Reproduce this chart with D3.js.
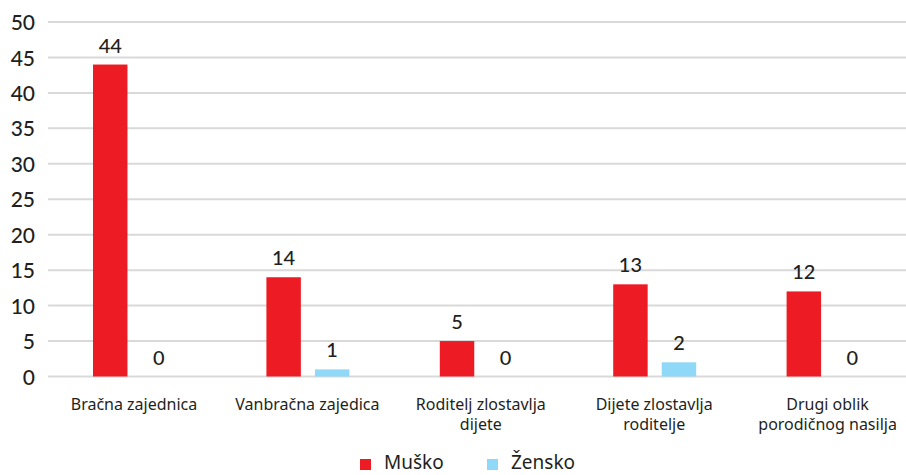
<!DOCTYPE html>
<html>
<head>
<meta charset="utf-8">
<script src="https://cdn.jsdelivr.net/npm/d3@7"></script>
<style>
  body { margin: 0; background: #fff; }
  text { font-family: "Noto Sans", sans-serif; fill: #231f20; }
</style>
</head>
<body>
<script>
// podaci
var categories = [
  ["Bračna zajednica"],
  ["Vanbračna zajedica"],
  ["Roditelj zlostavlja", "dijete"],
  ["Dijete zlostavlja", "roditelje"],
  ["Drugi oblik", "porodičnog nasilja"]
];
var series = ["Muško", "Žensko"];
var musko = [44, 14, 5, 13, 12];
var zensko = [0, 1, 0, 2, 0];
var yTicks = [0, 5, 10, 15, 20, 25, 30, 35, 40, 45, 50];
var colors = ["#ed1c24", "#8fd8f7"];

var width = 906, height = 475;

var svg = d3.select("body")
  .append("svg")
  .attr("width", width)
  .attr("height", height);

var catIdx = d3.range(categories.length);
var x0 = d3.scaleBand().domain(catIdx).range([48, 915]).padding(0);
var x1 = d3.scaleBand().domain(series).range([45, 128]).paddingInner(0.29).paddingOuter(0);
var y = d3.scaleLinear().domain([0, 50]).range([376.5, 22]);
var color = d3.scaleOrdinal().domain(series).range(colors);

// mreza
svg.append("g").selectAll("line")
  .data(yTicks)
  .join("line")
  .attr("x1", 48).attr("x2", width)
  .attr("y1", function(d) { return y(d); })
  .attr("y2", function(d) { return y(d); })
  .attr("stroke", "#d9d9d9")
  .attr("stroke-width", 2);

// os y
var yAxis = svg.append("g")
  .attr("transform", "translate(35,0)")
  .call(d3.axisLeft(y).tickValues(yTicks).tickSize(0).tickPadding(0));
yAxis.select(".domain").remove();
yAxis.selectAll("text")
  .attr("dy", "0.36em")
  .style("font-family", "Lato, sans-serif")
  .style("font-size", "21px")
  .style("font-weight", "500")
  .style("fill", "#231f20");

// stupci
var rows = catIdx.map(function(i) {
  return [{ s: series[0], v: musko[i] }, { s: series[1], v: zensko[i] }];
});

var groups = svg.append("g").selectAll("g")
  .data(rows)
  .join("g")
  .attr("transform", function(d, i) { return "translate(" + x0(i) + ",0)"; });

groups.selectAll("rect")
  .data(function(d) { return d; })
  .join("rect")
  .attr("x", function(d) { return x1(d.s); })
  .attr("width", x1.bandwidth())
  .attr("y", function(d) { return y(d.v); })
  .attr("height", function(d) { return y(0) - y(d.v); })
  .attr("fill", function(d) { return color(d.s); });

groups.selectAll("text.val")
  .data(function(d) { return d; })
  .join("text")
  .attr("class", "val")
  .attr("x", function(d) { return x1(d.s) + x1.bandwidth() / 2; })
  .attr("y", function(d) { return y(d.v) - 12; })
  .attr("text-anchor", "middle")
  .style("font-family", "Lato, sans-serif")
  .style("font-size", "20px")
  .style("font-weight", "500")
  .text(function(d) { return d.v; });

// kategorije - svaki red zaseban tekst
var catLines = [];
categories.forEach(function(lines, i) {
  lines.forEach(function(t, j) { catLines.push({ i: i, j: j, t: t }); });
});
svg.append("g").selectAll("text")
  .data(catLines)
  .join("text")
  .attr("text-anchor", "middle")
  .attr("x", function(d) { return x0(d.i) + 86; })
  .attr("y", function(d) { return 410 + d.j * 20; })
  .style("font-size", "16px")
  .text(function(d) { return d.t; });

// legenda
var legendX = [360, 487];
var legend = svg.append("g").selectAll("g")
  .data(series)
  .join("g")
  .attr("transform", function(d, i) { return "translate(" + legendX[i] + ",459)"; });
legend.append("rect")
  .attr("width", 11).attr("height", 11)
  .attr("fill", function(d) { return color(d); });
legend.append("text")
  .attr("x", 24).attr("y", 10)
  .style("font-size", "19px")
  .text(function(d) { return d; });
</script>
</body>
</html>
